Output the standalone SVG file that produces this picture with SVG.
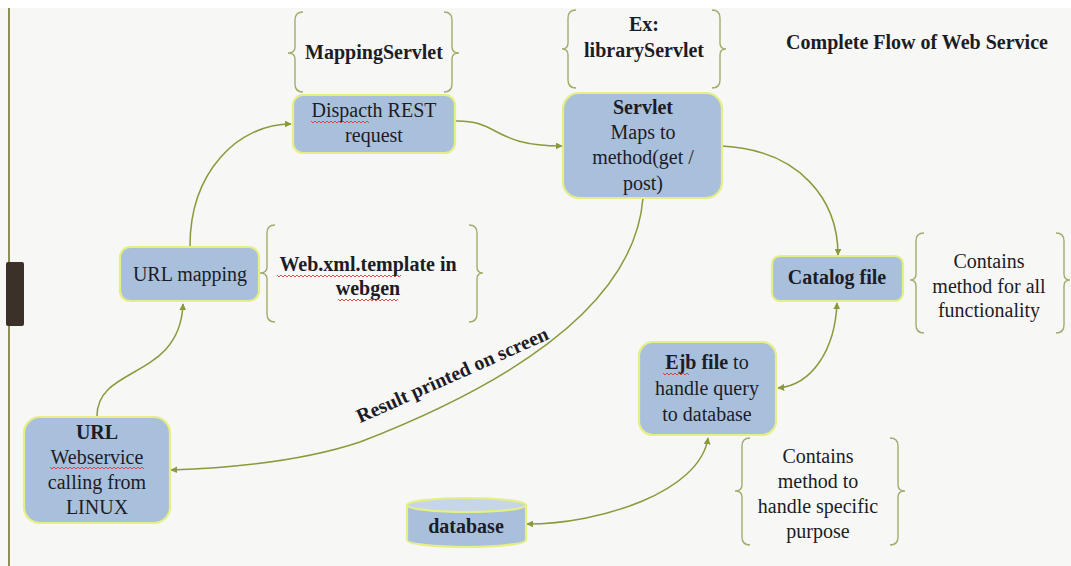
<svg xmlns="http://www.w3.org/2000/svg" width="1071" height="566" viewBox="0 0 1071 566">
  <style>
    .box { fill: #a9c0dc; stroke: #e6ee86; stroke-width: 2.2; }
    .brace { fill: none; stroke: #a2ac6c; stroke-width: 1.4; }
    .conn { fill: none; stroke: #889a3a; stroke-width: 1.5; }
    .t { font-size: 20px; fill: #1c1c26; text-anchor: middle; }
    .b { font-weight: bold; }
    .squig { fill: none; stroke: #d23a3a; stroke-width: 0.9; }
  </style>
  <defs>
    <marker id="arrow" viewBox="0 0 10 10" refX="9" refY="5" markerWidth="7" markerHeight="7" orient="auto-start-reverse" markerUnits="userSpaceOnUse">
      <path d="M0,0 L10,5 L0,10 z" fill="#889a3a"/>
    </marker>
  </defs>

  <!-- page -->
  <rect x="0" y="0" width="1071" height="566" fill="#f7f7f5"/>
  <rect x="0" y="0" width="1071" height="8" fill="#ffffff"/>
  <line x1="9" y1="8" x2="9" y2="566" stroke="#8d8f58" stroke-width="2"/>
  <rect x="6" y="262" width="18" height="64" rx="2" fill="#3b3128"/>

  <g font-family="Liberation Serif">
  <!-- title -->
  <text class="t b" x="917" y="49">Complete Flow of Web Service</text>

  <!-- connectors -->
  <g id="connectors">
    <path class="conn" d="M97,416 C97,365 180,380 183,304" marker-end="url(#arrow)"/>
    <path class="conn" d="M190,246 C190,172 238,124 291,124" marker-end="url(#arrow)"/>
    <path class="conn" d="M455,121 C500,120 492,146 562,146" marker-end="url(#arrow)"/>
    <path class="conn" d="M722,146 C800,150 838,200 838,255" marker-end="url(#arrow)"/>
    <path class="conn" d="M837,303 C835,350 812,385 778,388" marker-start="url(#arrow)" marker-end="url(#arrow)"/>
    <path class="conn" d="M708,438 C700,492 600,524 527,524" marker-start="url(#arrow)" marker-end="url(#arrow)"/>
    <path class="conn" d="M643,198 C635,300 520,380 360,442 C300,462 230,468 171,470" marker-end="url(#arrow)"/>
    <text class="t b" font-size="18" transform="translate(455,381) rotate(-24)">Result printed on screen</text>
  </g>

  <!-- MappingServlet note -->
  <g id="note-mapping">
    <path class="brace" d="M303,12 Q295,12 295,20 L295,47 Q295,53 288,53 Q295,53 295,59 L295,84 Q295,92 303,92"/>
    <path class="brace" d="M444,12 Q452,12 452,20 L452,47 Q452,53 459,53 Q452,53 452,59 L452,84 Q452,92 444,92"/>
    <text class="t b" x="374" y="59">MappingServlet</text>
  </g>

  <!-- Dispatch node -->
  <g id="node-dispatch">
    <rect class="box" x="293" y="95" width="162" height="58" rx="10"/>
    <text class="t" x="374" y="117">Dispacth REST</text>
    <text class="t" x="374" y="142">request</text>
    <path class="squig" d="M311,121 l2,2 l2,-2 l2,2 l2,-2 l2,2 l2,-2 l2,2 l2,-2 l2,2 l2,-2 l2,2 l2,-2 l2,2 l2,-2 l2,2 l2,-2 l2,2 l2,-2 l2,2 l2,-2 l2,2 l2,-2 l2,2 l2,-2 l2,2 l2,-2 l2,2 l2,-2 l2,2"/>
  </g>

  <!-- Ex: libraryServlet note -->
  <g id="note-library">
    <path class="brace" d="M576,10 Q568,10 568,18 L568,43 Q568,49 562,49 Q568,49 568,55 L568,80 Q568,88 576,88"/>
    <path class="brace" d="M712,10 Q720,10 720,18 L720,43 Q720,49 726,49 Q720,49 720,55 L720,80 Q720,88 712,88"/>
    <text class="t b" x="644" y="31">Ex:</text>
    <text class="t b" x="644" y="57">libraryServlet</text>
  </g>

  <!-- Servlet node -->
  <g id="node-servlet">
    <rect class="box" x="563" y="93" width="159" height="105" rx="16"/>
    <text class="t b" x="643" y="114">Servlet</text>
    <text class="t" x="643" y="139">Maps to</text>
    <text class="t" x="643" y="164">method(get /</text>
    <text class="t" x="643" y="190">post)</text>
  </g>

  <!-- URL mapping node -->
  <g id="node-urlmapping">
    <rect class="box" x="120" y="247" width="139" height="54" rx="10"/>
    <text class="t" x="190" y="281">URL mapping</text>
  </g>

  <!-- Web.xml.template note -->
  <g id="note-webxml">
    <path class="brace" d="M275,225 Q267,225 267,233 L267,267 Q267,273 260,273 Q267,273 267,279 L267,314 Q267,322 275,322"/>
    <path class="brace" d="M469,225 Q477,225 477,233 L477,267 Q477,273 483,273 Q477,273 477,279 L477,314 Q477,322 469,322"/>
    <text class="t b" x="368" y="271">Web.xml.template in</text>
    <text class="t b" x="368" y="295">webgen</text>
    <path class="squig" d="M277,275 l2,2 l2,-2 l2,2 l2,-2 l2,2 l2,-2 l2,2 l2,-2 l2,2 l2,-2 l2,2 l2,-2 l2,2 l2,-2 l2,2 l2,-2 l2,2 l2,-2 l2,2 l2,-2 l2,2 l2,-2 l2,2 l2,-2 l2,2 l2,-2 l2,2 l2,-2 l2,2 l2,-2 l2,2 l2,-2 l2,2 l2,-2 l2,2 l2,-2 l2,2 l2,-2 l2,2 l2,-2 l2,2 l2,-2 l2,2 l2,-2 l2,2 l2,-2 l2,2 l2,-2 l2,2 l2,-2 l2,2 l2,-2 l2,2 l2,-2 l2,2 l2,-2 l2,2 l2,-2 l2,2 l2,-2 l2,2 l2,-2"/>
    <path class="squig" d="M338,299 l2,2 l2,-2 l2,2 l2,-2 l2,2 l2,-2 l2,2 l2,-2 l2,2 l2,-2 l2,2 l2,-2 l2,2 l2,-2 l2,2 l2,-2 l2,2 l2,-2 l2,2 l2,-2 l2,2 l2,-2 l2,2 l2,-2 l2,2 l2,-2 l2,2 l2,-2 l2,2 l2,-2"/>
  </g>

  <!-- Catalog file node -->
  <g id="node-catalog">
    <rect class="box" x="772" y="256" width="131" height="45" rx="8"/>
    <text class="t b" x="837" y="284">Catalog file</text>
  </g>

  <!-- Catalog description note -->
  <g id="note-catalog">
    <path class="brace" d="M924,233 Q916,233 916,241 L916,274 Q916,280 910,280 Q916,280 916,286 L916,325 Q916,333 924,333"/>
    <path class="brace" d="M1056,233 Q1064,233 1064,241 L1064,274 Q1064,280 1070,280 Q1064,280 1064,286 L1064,325 Q1064,333 1056,333"/>
    <text class="t" x="989" y="268">Contains</text>
    <text class="t" x="989" y="293">method for all</text>
    <text class="t" x="989" y="317">functionality</text>
  </g>

  <!-- Ejb file node -->
  <g id="node-ejb">
    <rect class="box" x="639" y="342" width="137" height="93" rx="14"/>
    <text class="t" x="707" y="369"><tspan class="b">Ejb file</tspan> to</text>
    <text class="t" x="707" y="395">handle query</text>
    <text class="t" x="707" y="421">to database</text>
    <path class="squig" d="M663,373 l2,2 l2,-2 l2,2 l2,-2 l2,2 l2,-2 l2,2 l2,-2 l2,2 l2,-2 l2,2 l2,-2 l2,2"/>
  </g>

  <!-- Ejb description note -->
  <g id="note-ejb">
    <path class="brace" d="M750,438 Q742,438 742,446 L742,485 Q742,491 735,491 Q742,491 742,497 L742,537 Q742,545 750,545"/>
    <path class="brace" d="M890,438 Q898,438 898,446 L898,485 Q898,491 905,491 Q898,491 898,497 L898,537 Q898,545 890,545"/>
    <text class="t" x="818" y="463">Contains</text>
    <text class="t" x="818" y="488">method to</text>
    <text class="t" x="818" y="513">handle specific</text>
    <text class="t" x="818" y="538">purpose</text>
  </g>

  <!-- URL node -->
  <g id="node-url">
    <rect class="box" x="24" y="417" width="146" height="106" rx="16"/>
    <text class="t b" x="97" y="439">URL</text>
    <text class="t" x="97" y="464">Webservice</text>
    <text class="t" x="97" y="489">calling from</text>
    <text class="t" x="97" y="514">LINUX</text>
    <path class="squig" d="M50,467 l2,2 l2,-2 l2,2 l2,-2 l2,2 l2,-2 l2,2 l2,-2 l2,2 l2,-2 l2,2 l2,-2 l2,2 l2,-2 l2,2 l2,-2 l2,2 l2,-2 l2,2 l2,-2 l2,2 l2,-2 l2,2 l2,-2 l2,2 l2,-2 l2,2 l2,-2 l2,2 l2,-2 l2,2 l2,-2 l2,2 l2,-2 l2,2 l2,-2 l2,2 l2,-2 l2,2 l2,-2 l2,2 l2,-2 l2,2 l2,-2 l2,2 l2,-2 l2,2"/>
  </g>

  <!-- database node -->
  <g id="node-database">
    <path class="box" d="M407,505 L407,540 A59.5,7 0 0 0 526,540 L526,505"/>
    <ellipse class="box" cx="466.5" cy="505" rx="59.5" ry="7" style="fill:#c6d6e8"/>
    <text class="t b" x="466" y="533">database</text>
  </g>
  </g>
</svg>
